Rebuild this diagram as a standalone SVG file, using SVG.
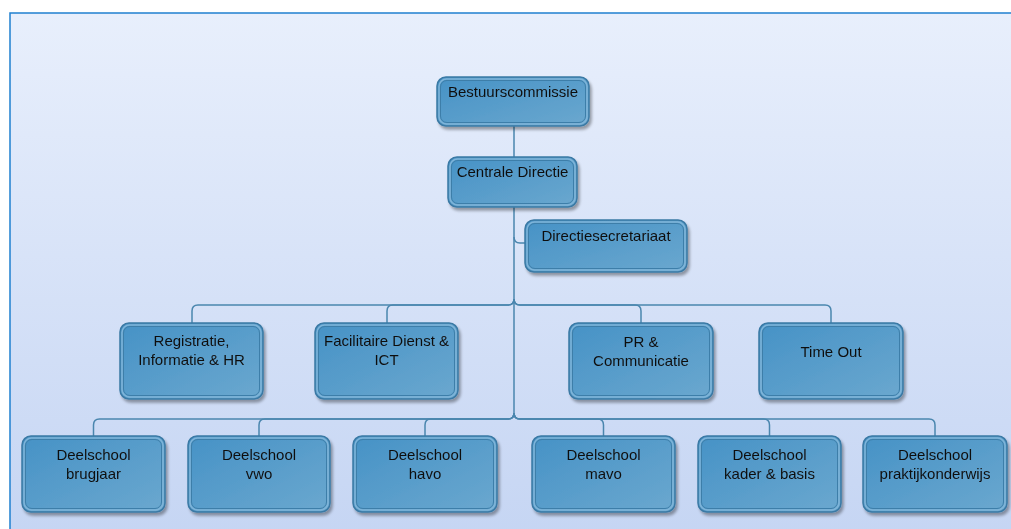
<svg xmlns="http://www.w3.org/2000/svg" width="1011" height="529" viewBox="0 0 1011 529">
<defs>
<linearGradient id="bg" x1="0" y1="0" x2="0" y2="1">
<stop offset="0" stop-color="#e8effc"/>
<stop offset="1" stop-color="#c5d5f3"/>
</linearGradient>
<linearGradient id="box" x1="0" y1="0" x2="1" y2="1">
<stop offset="0" stop-color="#4692c6"/>
<stop offset="1" stop-color="#6ba8cf"/>
</linearGradient>
<filter id="sh" x="-10%" y="-10%" width="125%" height="130%">
<feGaussianBlur in="SourceAlpha" stdDeviation="1.5"/>
<feOffset dx="2" dy="3" result="b"/>
<feComponentTransfer><feFuncA type="linear" slope="0.35"/></feComponentTransfer>
<feMerge><feMergeNode/><feMergeNode in="SourceGraphic"/></feMerge>
</filter>
</defs>
<style>
.o{fill:url(#box);stroke:#3a79a4;stroke-width:1.5}
.m{fill:none;stroke:#7fb4d8;stroke-width:1.5}
.i{fill:none;stroke:#3d7ea9;stroke-width:1}
.t{font-family:"Liberation Sans",Arial,sans-serif;font-size:15px;fill:#111111;text-anchor:middle}
.c{fill:none;stroke:#4a86ae;stroke-width:1.5}
</style>
<rect x="0" y="0" width="1011" height="529" fill="#ffffff"/>
<rect x="10" y="13" width="1010" height="530" fill="url(#bg)" stroke="#1f80d0" stroke-width="1.5"/>
<g id="connectors">
<path class="c" d="M514 126V157"/>
<path class="c" d="M514 207V413"/>
<path class="c" d="M514 237Q514 243 520 243H525"/>
<path class="c" d="M514 299Q514 305 508 305H198Q192 305 192 311V323"/>
<path class="c" d="M514 299Q514 305 508 305H393Q387 305 387 311V323"/>
<path class="c" d="M514 299Q514 305 520 305H635Q641 305 641 311V323"/>
<path class="c" d="M514 299Q514 305 520 305H825Q831 305 831 311V323"/>
<path class="c" d="M514 413Q514 419 508 419H99.5Q93.5 419 93.5 425V436"/>
<path class="c" d="M514 413Q514 419 508 419H265Q259 419 259 425V436"/>
<path class="c" d="M514 413Q514 419 508 419H431Q425 419 425 425V436"/>
<path class="c" d="M514 413Q514 419 520 419H597.5Q603.5 419 603.5 425V436"/>
<path class="c" d="M514 413Q514 419 520 419H763.5Q769.5 419 769.5 425V436"/>
<path class="c" d="M514 413Q514 419 520 419H929Q935 419 935 425V436"/>
</g>
<g id="n-bestuur" filter="url(#sh)">
<rect class="o" x="437" y="77" width="152" height="49" rx="9"/>
<rect class="m" x="439" y="79" width="148" height="45" rx="7.5"/>
<rect class="i" x="440.5" y="80.5" width="145" height="42" rx="6.5"/>
<text class="t" x="513" y="97">Bestuurscommissie</text>
</g>
<g id="n-centrale" filter="url(#sh)">
<rect class="o" x="448" y="157" width="129" height="50" rx="9"/>
<rect class="m" x="450" y="159" width="125" height="46" rx="7.5"/>
<rect class="i" x="451.5" y="160.5" width="122" height="43" rx="6.5"/>
<text class="t" x="512.5" y="177">Centrale Directie</text>
</g>
<g id="n-secretariaat" filter="url(#sh)">
<rect class="o" x="525" y="220" width="162" height="52" rx="9"/>
<rect class="m" x="527" y="222" width="158" height="48" rx="7.5"/>
<rect class="i" x="528.5" y="223.5" width="155" height="45" rx="6.5"/>
<text class="t" x="606" y="241">Directiesecretariaat</text>
</g>
<g id="n-registratie" filter="url(#sh)">
<rect class="o" x="120" y="323" width="143" height="76" rx="9"/>
<rect class="m" x="122" y="325" width="139" height="72" rx="7.5"/>
<rect class="i" x="123.5" y="326.5" width="136" height="69" rx="6.5"/>
<text class="t" x="191.5" y="346">Registratie,</text>
<text class="t" x="191.5" y="365">Informatie &amp; HR</text>
</g>
<g id="n-facilitaire" filter="url(#sh)">
<rect class="o" x="315" y="323" width="143" height="76" rx="9"/>
<rect class="m" x="317" y="325" width="139" height="72" rx="7.5"/>
<rect class="i" x="318.5" y="326.5" width="136" height="69" rx="6.5"/>
<text class="t" x="386.5" y="346">Facilitaire Dienst &amp;</text>
<text class="t" x="386.5" y="365">ICT</text>
</g>
<g id="n-pr" filter="url(#sh)">
<rect class="o" x="569" y="323" width="144" height="76" rx="9"/>
<rect class="m" x="571" y="325" width="140" height="72" rx="7.5"/>
<rect class="i" x="572.5" y="326.5" width="137" height="69" rx="6.5"/>
<text class="t" x="641" y="347">PR &amp;</text>
<text class="t" x="641" y="366">Communicatie</text>
</g>
<g id="n-timeout" filter="url(#sh)">
<rect class="o" x="759" y="323" width="144" height="76" rx="9"/>
<rect class="m" x="761" y="325" width="140" height="72" rx="7.5"/>
<rect class="i" x="762.5" y="326.5" width="137" height="69" rx="6.5"/>
<text class="t" x="831" y="357">Time Out</text>
</g>
<g id="n-brugjaar" filter="url(#sh)">
<rect class="o" x="22" y="436" width="143" height="76" rx="9"/>
<rect class="m" x="24" y="438" width="139" height="72" rx="7.5"/>
<rect class="i" x="25.5" y="439.5" width="136" height="69" rx="6.5"/>
<text class="t" x="93.5" y="460">Deelschool</text>
<text class="t" x="93.5" y="479">brugjaar</text>
</g>
<g id="n-vwo" filter="url(#sh)">
<rect class="o" x="188" y="436" width="142" height="76" rx="9"/>
<rect class="m" x="190" y="438" width="138" height="72" rx="7.5"/>
<rect class="i" x="191.5" y="439.5" width="135" height="69" rx="6.5"/>
<text class="t" x="259" y="460">Deelschool</text>
<text class="t" x="259" y="479">vwo</text>
</g>
<g id="n-havo" filter="url(#sh)">
<rect class="o" x="353" y="436" width="144" height="76" rx="9"/>
<rect class="m" x="355" y="438" width="140" height="72" rx="7.5"/>
<rect class="i" x="356.5" y="439.5" width="137" height="69" rx="6.5"/>
<text class="t" x="425" y="460">Deelschool</text>
<text class="t" x="425" y="479">havo</text>
</g>
<g id="n-mavo" filter="url(#sh)">
<rect class="o" x="532" y="436" width="143" height="76" rx="9"/>
<rect class="m" x="534" y="438" width="139" height="72" rx="7.5"/>
<rect class="i" x="535.5" y="439.5" width="136" height="69" rx="6.5"/>
<text class="t" x="603.5" y="460">Deelschool</text>
<text class="t" x="603.5" y="479">mavo</text>
</g>
<g id="n-kader" filter="url(#sh)">
<rect class="o" x="698" y="436" width="143" height="76" rx="9"/>
<rect class="m" x="700" y="438" width="139" height="72" rx="7.5"/>
<rect class="i" x="701.5" y="439.5" width="136" height="69" rx="6.5"/>
<text class="t" x="769.5" y="460">Deelschool</text>
<text class="t" x="769.5" y="479">kader &amp; basis</text>
</g>
<g id="n-praktijk" filter="url(#sh)">
<rect class="o" x="863" y="436" width="144" height="76" rx="9"/>
<rect class="m" x="865" y="438" width="140" height="72" rx="7.5"/>
<rect class="i" x="866.5" y="439.5" width="137" height="69" rx="6.5"/>
<text class="t" x="935" y="460">Deelschool</text>
<text class="t" x="935" y="479">praktijkonderwijs</text>
</g>
</svg>
